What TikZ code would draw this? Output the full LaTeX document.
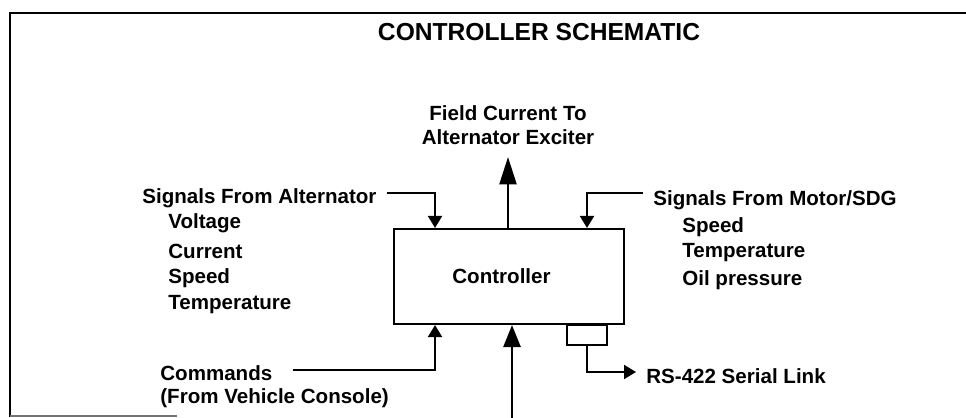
\documentclass[tikz,border=0pt]{standalone}
\usepackage{fontspec}
\setmainfont{Liberation Sans}
\usetikzlibrary{arrows.meta}

\begin{document}
\begin{tikzpicture}[x=0.02cm, y=-0.02cm,
  lbl/.style={font=\bfseries\fontsize{11.7}{14}\selectfont, inner sep=0pt, anchor=west},
  wire/.style={line width=1.1pt, -{Triangle[length=0.24cm, width=0.28cm]}},
  feed/.style={line width=1.5pt, -{Triangle[length=0.55cm, width=0.34cm]}},
]
\useasboundingbox (0,0) rectangle (966,418);
\draw[line width=1.6pt] (966,13) -- (10,13) -- (10,417);
\draw[line width=0.8pt, black!55] (10,416) -- (177,416);

\node[font=\bfseries\fontsize{14}{16}\selectfont] (T) at (539,32) {CONTROLLER SCHEMATIC};

\node[draw, line width=1.2pt, minimum width=4.6cm, minimum height=1.9cm,
      font=\bfseries\fontsize{11.7}{14}\selectfont] (ctrl) at (509,276.5) {Controller\hspace*{0.3cm}};
\node[draw, line width=1.1pt, minimum width=0.8cm, minimum height=0.4cm, anchor=north] (port) at (587,324) {};

\node[lbl, anchor=center, align=center, font=\bfseries\fontsize{11.7}{13.7}\selectfont] (fld) at (508,125) {Field Current To\\Alternator Exciter};
\coordinate (fldtip) at (508,157);
\draw[feed] (ctrl.north -| fldtip) -- (fldtip);

\node[lbl] (sigA) at (142,198) {Signals From Alternator};
\node[lbl] (aV) at (168,223) {Voltage};
\node[lbl] (aC) at (168,251) {Current};
\node[lbl] (aS) at (168,278) {Speed};
\node[lbl] (aT) at (168,305) {Temperature};
\draw[wire] ([xshift=0.2cm, yshift=0.1cm]sigA.east) -| ([xshift=-1.48cm]ctrl.north);

\node[lbl] (sigM) at (653,200) {Signals From Motor/SDG};
\node[lbl] (mS) at (682,227) {Speed};
\node[lbl] (mT) at (682,253) {Temperature};
\node[lbl] (mO) at (682,280) {Oil pressure};
\draw[wire] ([xshift=-0.2cm, yshift=0.14cm]sigM.west) -| ([xshift=1.56cm]ctrl.north);

\node[lbl] (cmd) at (160,373) {Commands};
\node[lbl] (cmdV) at (160,398) {(From Vehicle Console)};
\draw[wire] ([xshift=0.4cm, yshift=0.06cm]cmd.east) -| ([xshift=-1.48cm]ctrl.south);

\coordinate (bus) at (512,418);
\draw[feed, -{Triangle[length=0.44cm, width=0.34cm]}] (bus) -- (bus |- ctrl.south);

\node[lbl] (rs) at (646,376) {RS-422 Serial Link};
\draw[wire, shorten >=0.2cm] (port.south) |- ([yshift=0.08cm]rs.west);
\end{tikzpicture}
\end{document}
